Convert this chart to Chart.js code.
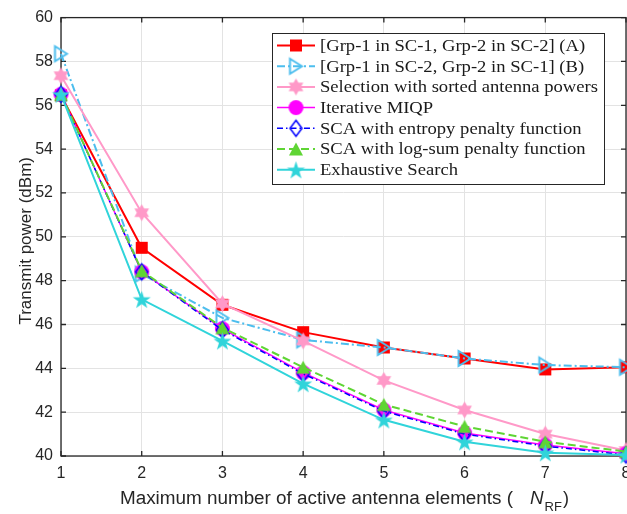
<!DOCTYPE html>
<html>
<head>
<meta charset="utf-8">
<script src="https://cdn.jsdelivr.net/npm/chart.js@4.4.1/dist/chart.umd.min.js"></script>
<style>
  html, body { margin: 0; padding: 0; background: #fff; overflow: hidden; }
  #wrap { width: 660px; height: 514px; position: relative; }
</style>
</head>
<body>
<div id="wrap"><canvas id="powerChart"></canvas></div>
<script>
// N_RF values on the x axis
const nrf = [1, 2, 3, 4, 5, 6, 7, 8];

// Transmit power (dBm) for each scheme
const grpA       = [56.45, 49.5, 46.9, 45.65, 44.95, 44.45, 43.95, 44.05];
const grpB       = [58.35, 48.3, 46.3, 45.3, 44.95, 44.45, 44.15, 44.05];
const sortedSel  = [57.35, 51.1, 46.95, 45.25, 43.45, 42.1, 41.0, 40.25];
const miqp       = [56.5, 48.4, 45.8, 43.8, 42.1, 41.05, 40.5, 40.1];
const scaEntropy = [56.5, 48.4, 45.75, 43.75, 42.05, 41.0, 40.45, 40.05];
const scaLogSum  = [56.5, 48.45, 45.85, 44.05, 42.35, 41.35, 40.65, 40.2];
const exhaustive = [56.5, 47.15, 45.25, 43.3, 41.65, 40.65, 40.15, 40.05];

const seriesNames = [
    '[Grp-1 in SC-1, Grp-2 in SC-2] (A)',
    '[Grp-1 in SC-2, Grp-2 in SC-1] (B)',
    'Selection with sorted antenna powers',
    'Iterative MIQP',
    'SCA with entropy penalty function',
    'SCA with log-sum penalty function',
    'Exhaustive Search'
];

const xTicks = [1, 2, 3, 4, 5, 6, 7, 8];
const yTicks = [40, 42, 44, 46, 48, 50, 52, 54, 56, 58, 60];

const AXIS_COLOR = '#262626';
const SANS = '"Liberation Sans", Arial, sans-serif';
const SERIF = '"Liberation Serif", "DejaVu Serif", serif';

// Marker shapes, drawn around the origin
function starPath(ctx, n, R, r) {
    for (let i = 0; i < n * 2; i++) {
        const a = -Math.PI / 2 + i * Math.PI / n;
        const rad = i % 2 ? r : R;
        ctx.lineTo(Math.cos(a) * rad, Math.sin(a) * rad);
    }
}

const shapes = {
    square: (ctx, w, h) => ctx.rect(-w / 2, -h / 2, w, h),
    triRight: (ctx, w, h) => { ctx.moveTo(w / 2, 0); ctx.lineTo(-w / 2, -h / 2); ctx.lineTo(-w / 2, h / 2); },
    triUp: (ctx, w, h) => { ctx.moveTo(0, -h / 2); ctx.lineTo(w / 2, h / 2); ctx.lineTo(-w / 2, h / 2); },
    circle: (ctx, w) => ctx.arc(0, 0, w / 2, 0, Math.PI * 2),
    diamond: (ctx, w, h) => { ctx.moveTo(0, -h / 2); ctx.lineTo(w / 2, 0); ctx.lineTo(0, h / 2); ctx.lineTo(-w / 2, 0); },
    hexagram: (ctx, w) => starPath(ctx, 6, w / 2, w / 2 / Math.sqrt(3)),
    pentagram: (ctx, w) => starPath(ctx, 5, w / 2, w / 2 * 0.382)
};

function markerImage(shape, w, h, fill, stroke, lineWidth) {
    const dim = Math.ceil(Math.max(w, h) + lineWidth * 2 + 4);
    const cv = document.createElement('canvas');
    cv.width = cv.height = dim;
    const ctx = cv.getContext('2d');
    ctx.translate(dim / 2, dim / 2 + (shape === 'pentagram' ? 1 : 0));
    ctx.beginPath();
    shapes[shape](ctx, w, h);
    ctx.closePath();
    if (fill) { ctx.fillStyle = fill; ctx.fill(); }
    if (stroke) { ctx.lineJoin = 'miter'; ctx.lineWidth = lineWidth; ctx.strokeStyle = stroke; ctx.stroke(); }
    return cv;
}

const seriesStyle = [
    { data: grpA,       color: '#ff0000', width: 2,   dash: [],            marker: markerImage('square', 12, 12, '#ff0000', null, 0) },
    { data: grpB,       color: '#4dbeee', width: 2,   dash: [8, 3, 2, 3],  marker: markerImage('triRight', 12, 15, null, '#4dbeee', 2) },
    { data: sortedSel,  color: '#ff99c8', width: 2,   dash: [],            marker: markerImage('hexagram', 17, 17, '#ff99c8', null, 0) },
    { data: miqp,       color: '#ff00ff', width: 1.5, dash: [],            marker: markerImage('circle', 15, 15, '#ff00ff', null, 0) },
    { data: scaEntropy, color: '#0000ff', width: 1.5, dash: [6, 3, 1.5, 3], marker: markerImage('diamond', 12, 16, null, '#0000ff', 1.5) },
    { data: scaLogSum,  color: '#5fd534', width: 2,   dash: [8, 4],        marker: markerImage('triUp', 14, 13, '#5fd534', null, 0) },
    { data: exhaustive, color: '#30d4da', width: 2,   dash: [],            marker: markerImage('pentagram', 19, 19, '#30d4da', null, 0) }
];

const datasets = seriesStyle.map((s, i) => ({
    label: seriesNames[i],
    data: s.data.map((v, k) => ({ x: nrf[k], y: v })),
    borderColor: s.color,
    backgroundColor: s.color,
    borderWidth: s.width,
    borderDash: s.dash,
    pointStyle: s.marker,
    pointRadius: 8,
    tension: 0,
    clip: false,
    order: seriesStyle.length - 1 - i
}));

// Box with inward ticks on all four sides
const framePlugin = {
    id: 'frame',
    beforeDatasetsDraw(chart) {
        const { ctx, chartArea: a, scales } = chart;
        ctx.save();
        ctx.strokeStyle = AXIS_COLOR;
        ctx.lineWidth = 1.3;
        ctx.strokeRect(a.left, a.top, a.right - a.left, a.bottom - a.top);
        ctx.beginPath();
        const t = 5;
        xTicks.forEach(v => {
            const x = scales.x.getPixelForValue(v);
            ctx.moveTo(x, a.bottom); ctx.lineTo(x, a.bottom - t);
            ctx.moveTo(x, a.top); ctx.lineTo(x, a.top + t);
        });
        yTicks.forEach(v => {
            const y = scales.y.getPixelForValue(v);
            ctx.moveTo(a.left, y); ctx.lineTo(a.left + t, y);
            ctx.moveTo(a.right, y); ctx.lineTo(a.right - t, y);
        });
        ctx.stroke();
        ctx.restore();
    }
};

// Draw text squeezed or stretched horizontally to a given width
function fillTextWidth(ctx, text, x, y, width) {
    const k = width / ctx.measureText(text).width;
    ctx.save();
    ctx.translate(x, y);
    ctx.scale(k, 1);
    ctx.fillText(text, 0, 0);
    ctx.restore();
    return k;
}

// Axis titles, with the italic N and subscript RF on the x title
const titlePlugin = {
    id: 'titles',
    afterDraw(chart) {
        const { ctx, chartArea: a } = chart;
        ctx.save();
        ctx.fillStyle = AXIS_COLOR;
        ctx.textBaseline = 'alphabetic';

        ctx.save();
        ctx.translate(31, (a.top + a.bottom) / 2 + 4);
        ctx.rotate(-Math.PI / 2);
        ctx.textAlign = 'center';
        ctx.font = '17px ' + SANS;
        ctx.fillText('Transmit power (dBm)', 0, 0);
        ctx.restore();

        const base = 504;
        let x = 120;
        ctx.textAlign = 'left';
        ctx.font = '18px ' + SANS;
        const head = 'Maximum number of active antenna elements (';
        const k = fillTextWidth(ctx, head, x, base, 393);
        x += 393 + 17;
        ctx.font = 'italic 18px ' + SANS;
        fillTextWidth(ctx, 'N', x, base, ctx.measureText('N').width * k);
        x += ctx.measureText('N').width * k + 1;
        ctx.font = '13px ' + SANS;
        ctx.fillText('RF', x, base + 7);
        x += ctx.measureText('RF').width + 1;
        ctx.font = '18px ' + SANS;
        ctx.fillText(')', x, base);
        ctx.restore();
    }
};

// Boxed legend in the upper right of the plot
const legendPlugin = {
    id: 'boxLegend',
    afterDraw(chart) {
        const { ctx } = chart;
        const box = { left: 272, top: 33, right: 604, bottom: 184 };
        const rowH = 20.7;
        ctx.save();
        ctx.fillStyle = '#fff';
        ctx.fillRect(box.left, box.top, box.right - box.left, box.bottom - box.top);
        ctx.strokeStyle = AXIS_COLOR;
        ctx.lineWidth = 1;
        ctx.strokeRect(box.left + 0.5, box.top + 0.5, box.right - box.left, box.bottom - box.top);

        ctx.font = '17px ' + SERIF;
        ctx.textBaseline = 'middle';
        // the widest entry sets the horizontal stretch for all of them
        const stretch = 278 / ctx.measureText(seriesNames[2]).width;
        seriesStyle.forEach((s, i) => {
            const y = box.top + 12.5 + i * rowH;
            ctx.beginPath();
            ctx.strokeStyle = s.color;
            ctx.lineWidth = s.width;
            ctx.setLineDash(s.dash);
            ctx.moveTo(277, y);
            ctx.lineTo(315, y);
            ctx.stroke();
            ctx.setLineDash([]);
            ctx.drawImage(s.marker, 296 - s.marker.width / 2, y - s.marker.height / 2);
            ctx.fillStyle = '#1a1a1a';
            fillTextWidth(ctx, seriesNames[i], 320, y + 1, ctx.measureText(seriesNames[i]).width * stretch);
        });
        ctx.restore();
    }
};

function initChart() {
    const ctx = document.getElementById('powerChart');
    new Chart(ctx, {
        type: 'line',
        data: { datasets },
        options: {
            responsive: true,
            maintainAspectRatio: false,
            animation: false,
            devicePixelRatio: 1,
            layout: { padding: { top: 15, right: 34, left: 0, bottom: 0 } },
            plugins: {
                legend: { display: false },
                tooltip: { enabled: false }
            },
            scales: {
                x: {
                    type: 'linear',
                    min: 1,
                    max: 8,
                    afterBuildTicks: s => { s.ticks = xTicks.map(v => ({ value: v })); },
                    afterFit: s => { s.height = 58; },
                    grid: { color: '#e3e3e3', lineWidth: 1, drawTicks: false },
                    border: { display: false },
                    ticks: {
                        color: AXIS_COLOR,
                        font: { family: SANS, size: 16 },
                        padding: 8,
                        maxRotation: 0,
                        autoSkip: false
                    }
                },
                y: {
                    type: 'linear',
                    min: 40,
                    max: 60,
                    afterBuildTicks: s => { s.ticks = yTicks.map(v => ({ value: v })); },
                    afterFit: s => { s.width = 61; },
                    grid: { color: '#e3e3e3', lineWidth: 1, drawTicks: false },
                    border: { display: false },
                    ticks: {
                        color: AXIS_COLOR,
                        font: { family: SANS, size: 16 },
                        padding: 8,
                        autoSkip: false
                    }
                }
            }
        },
        plugins: [framePlugin, titlePlugin, legendPlugin]
    });
}

document.addEventListener('DOMContentLoaded', initChart);
</script>
</body>
</html>
